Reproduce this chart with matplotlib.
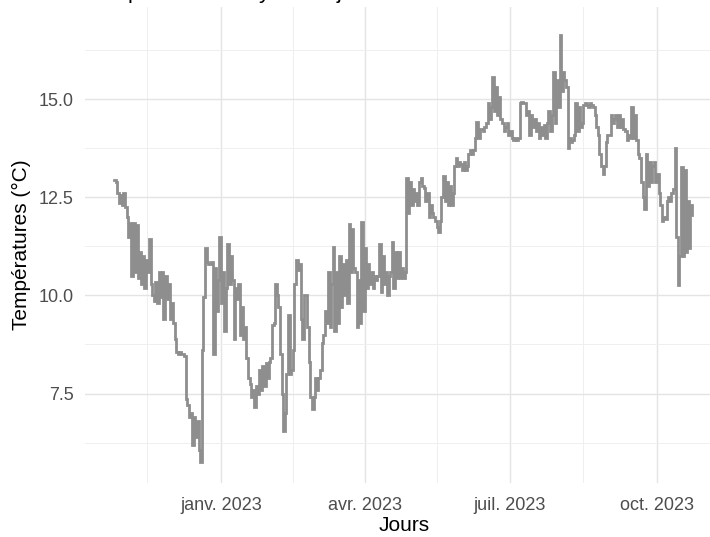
import numpy as np
import pandas as pd
import matplotlib
matplotlib.use("Agg")
import matplotlib.pyplot as plt
import matplotlib.dates as mdates
from matplotlib.ticker import FixedLocator, FixedFormatter, NullFormatter

# daily mean temperatures (°C), starting 26 Oct 2022
start_day = "2022-10-26"
temps = [
    12.95, 12.9, 12.6, 12.35, 12.55, 12.3, 12.6, 12.25, 12.0, 11.5,
    11.85, 10.5, 11.85, 10.6, 11.8, 10.45, 11.1, 10.3, 11.0, 10.2,
    10.9, 10.6, 11.45, 10.3, 10.0, 9.85, 10.35, 9.8, 10.6, 9.95,
    10.6, 9.4, 10.5, 9.9, 10.3, 9.4, 9.8, 9.3, 8.9, 8.55,
    8.5, 8.55, 8.5, 8.5, 8.45, 7.35, 7.2, 6.9, 7.0, 6.2,
    6.9, 6.4, 6.8, 6.05, 5.75, 8.6, 9.95, 11.2, 10.85, 10.8,
    10.8, 10.85, 8.5, 10.7, 9.6, 10.4, 11.5, 9.8, 10.6, 9.1,
    10.2, 11.3, 10.3, 11.0, 10.4, 8.9, 10.2, 9.9, 10.3, 9.0,
    9.7, 8.9, 9.2, 8.4, 7.9, 7.75, 7.4, 7.6, 7.15, 7.7,
    7.5, 8.1, 7.6, 8.2, 7.7, 8.27, 7.9, 8.3, 8.4, 9.25,
    9.3, 10.3, 10.0, 9.7, 8.5, 7.5, 6.55, 7.0, 8.0, 9.5,
    8.0, 8.1, 8.6, 10.3, 10.9, 10.65, 10.8, 9.4, 8.9, 10.0,
    10.0, 9.2, 8.3, 7.4, 7.1, 7.4, 7.9, 7.6, 7.9, 8.1,
    8.8, 9.0, 9.6, 9.3, 10.6, 9.2, 10.3, 11.24, 9.1, 10.6,
    9.3, 11.0, 9.7, 10.8, 10.0, 10.9, 9.8, 11.83, 10.6, 11.7,
    10.7, 10.6, 9.2, 10.4, 9.3, 11.87, 9.6, 11.2, 10.2, 10.8,
    10.3, 10.6, 10.2, 10.5, 10.4, 10.5, 11.3, 10.1, 11.0, 10.3,
    10.6, 10.0, 10.5, 10.6, 11.35, 10.2, 11.1, 10.45, 11.1, 10.45,
    10.7, 10.45, 10.6, 12.98, 12.1, 12.9, 12.3, 12.7, 12.4, 12.6,
    12.3, 12.9, 13.0, 12.8, 12.75, 12.4, 12.6, 12.0, 12.3, 12.1,
    12.0, 11.9, 11.75, 11.62, 11.9, 12.5, 13.05, 12.4, 12.9, 12.3,
    12.8, 12.3, 12.6, 13.3, 13.5, 13.3, 13.4, 13.35, 13.2, 13.4,
    13.2, 13.3, 13.6, 13.7, 13.6, 13.7, 14.0, 14.42, 14.0, 14.25,
    14.25, 14.2, 14.3, 14.4, 14.9, 14.5, 14.8, 15.57, 14.7, 15.3,
    14.6, 15.05, 14.5, 14.4, 14.2, 14.3, 14.4, 14.1, 14.2, 14.0,
    13.95, 14.0, 13.95, 14.0, 14.9, 14.93, 14.9, 14.9, 14.6, 14.7,
    14.1, 14.6, 14.3, 14.5, 14.2, 14.4, 14.0, 14.3, 14.1, 14.35,
    14.0, 14.4, 14.7, 14.2, 14.6, 15.7, 14.4, 15.5, 14.8, 16.63,
    15.2, 15.7, 15.5, 15.3, 13.75, 14.0, 13.9, 13.95, 14.1, 14.9,
    14.2, 14.8, 14.3, 14.4, 14.85, 14.9, 14.85, 14.8, 14.9, 14.85,
    14.8, 14.6, 14.3, 14.1, 13.6, 13.3, 13.1, 13.3, 13.9, 14.1,
    14.1, 14.6, 14.4, 14.5, 14.6, 14.3, 14.6, 14.3, 14.5, 14.25,
    14.2, 13.95, 14.1, 14.0, 14.8, 14.0, 14.6, 13.95, 13.6, 13.5,
    12.9, 12.5, 12.2, 13.6, 12.8, 13.4, 12.9, 13.3, 13.4, 12.9,
    13.1, 12.6, 12.3, 11.9, 12.0, 11.95, 12.4, 12.5, 12.4, 12.6,
    12.7, 13.75, 11.5, 10.27, 11.0, 13.27, 11.0, 13.2, 11.1, 12.4,
    11.2, 12.3, 12.05,
]

x_breaks = ["2023-01-01", "2023-04-01", "2023-07-01", "2023-10-01"]
x_minor = ["2022-11-16", "2023-02-15", "2023-05-16", "2023-08-16"]
x_labels = ["janv. 2023", "avr. 2023", "juil. 2023", "oct. 2023"]
y_breaks = [7.5, 10.0, 12.5, 15.0]
y_minor = [6.25, 8.75, 11.25, 13.75, 16.25]
y_labels = ["7.5", "10.0", "12.5", "15.0"]

title = "Températures moyennes journalières en 2023"
xlab = "Jours"
ylab = "Températures (°C)"

plt.rcParams["font.family"] = ["Liberation Sans", "DejaVu Sans"]

days = pd.date_range(start_day, periods=len(temps), freq="D")
xnum = mdates.date2num(days)

fig = plt.figure(figsize=(7.10, 5.37), dpi=100)
# panel runs a little past the right edge, like the original export
ax = fig.add_axes([85 / 710, 54 / 537, 636 / 710, 476 / 537])

ax.plot(xnum, temps, color="#8e8e8e", lw=2.0, drawstyle="steps-post",
        solid_joinstyle="miter")

# ggplot-style 5% expansion on x
span = xnum[-1] - xnum[0]
ax.set_xlim(xnum[0] - 0.05 * span, xnum[-1] + 0.05 * span)
ax.set_ylim(5.22, 17.35)

ax.xaxis.set_major_locator(FixedLocator(mdates.date2num(pd.to_datetime(x_breaks))))
ax.xaxis.set_major_formatter(FixedFormatter(x_labels))
ax.xaxis.set_minor_locator(FixedLocator(mdates.date2num(pd.to_datetime(x_minor))))
ax.xaxis.set_minor_formatter(NullFormatter())
ax.yaxis.set_major_locator(FixedLocator(y_breaks))
ax.yaxis.set_major_formatter(FixedFormatter(y_labels))
ax.yaxis.set_minor_locator(FixedLocator(y_minor))
ax.yaxis.set_minor_formatter(NullFormatter())

# theme_minimal look
for s in ax.spines.values():
    s.set_visible(False)
ax.set_axisbelow(True)
ax.grid(which="major", color="#e4e4e4", lw=1.0)
ax.grid(which="minor", color="#efefef", lw=0.7)
ax.tick_params(which="both", length=0)
ax.tick_params(axis="x", labelsize=13, labelcolor="#4d4d4d", pad=10)
ax.tick_params(axis="y", labelsize=13, labelcolor="#4d4d4d", pad=8)

ax.set_xlabel(xlab, fontsize=15, color="black")
ax.set_ylabel(ylab, fontsize=15, color="black")
ax.xaxis.set_label_coords((404 - 85) / 636, -33 / 476)
ax.yaxis.set_label_coords(-54 / 636, 0.5)

# title sits mostly above the top edge
fig.text(86 / 710, 1 + 2 / 537, title, fontsize=16, color="black",
         ha="left", va="baseline")

fig.savefig("out.png", dpi=100)
